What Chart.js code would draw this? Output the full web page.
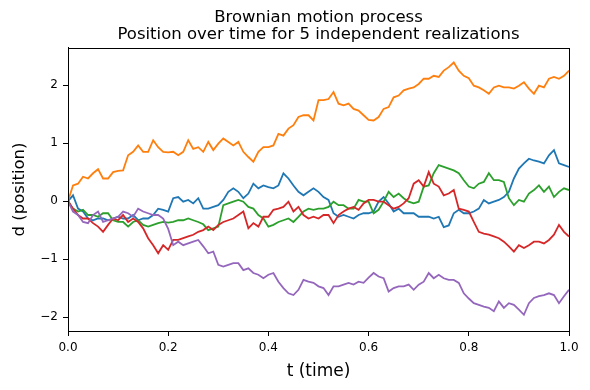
<!DOCTYPE html>
<html>
<head>
<meta charset="utf-8">
<script src="https://cdn.jsdelivr.net/npm/chart.js@4.4.0/dist/chart.umd.min.js"></script>
<style>
  html, body { margin: 0; padding: 0; background: #fff; }
</style>
</head>
<body>
<canvas id="js--chart" width="590" height="390"></canvas>
<script>
const times = Array.from({ length: 101 }, (_, i) => i / 100)

const walkBlue = [
  0, 0.10, -0.13, -0.18, -0.30, -0.33, -0.30, -0.30, -0.33, -0.30, -0.27, -0.30, -0.30, -0.24, -0.33, -0.30, -0.30, -0.24, -0.13, -0.15, -0.18,
  0.05, 0.07, -0.01, 0.02, -0.04, 0.05, -0.13, -0.13, -0.10, -0.07, 0.02, 0.16, 0.22, 0.16, 0.05, 0.13, 0.30, 0.22, 0.27, 0.24,
  0.22, 0.27, 0.48, 0.39, 0.27, 0.16, 0.10, 0.16, 0.22, 0.16, 0.07, 0.02, -0.21, -0.27, -0.24, -0.27, -0.30, -0.24, -0.21, -0.21,
  -0.18, -0.01, 0.07, -0.04, -0.18, -0.13, -0.21, -0.21, -0.21, -0.27, -0.27, -0.27, -0.30, -0.27, -0.45, -0.42, -0.21, -0.15, -0.21, -0.21,
  -0.18, -0.13, 0.02, -0.04, -0.01, 0.02, 0.07, 0.16, 0.39, 0.56, 0.65, 0.73, 0.70, 0.68, 0.65, 0.79, 0.88, 0.65, 0.62, 0.59
]
const walkOrange = [
  0, 0.27, 0.30, 0.42, 0.39, 0.48, 0.55, 0.39, 0.39, 0.50, 0.52, 0.53, 0.79, 0.85, 0.96, 0.85, 0.85, 1.05, 0.93, 0.85, 0.84,
  0.85, 0.79, 0.85, 1.05, 0.90, 0.93, 0.85, 1.02, 0.88, 0.99, 1.08, 1.02, 0.96, 1.02, 0.85, 0.76, 0.68, 0.85, 0.93, 0.93,
  0.96, 1.16, 1.13, 1.25, 1.31, 1.45, 1.48, 1.48, 1.39, 1.74, 1.74, 1.76, 1.88, 1.68, 1.65, 1.68, 1.59, 1.56, 1.48, 1.40,
  1.39, 1.45, 1.59, 1.62, 1.79, 1.82, 1.91, 1.94, 1.96, 2.02, 2.11, 2.11, 2.16, 2.14, 2.25, 2.31, 2.39, 2.25, 2.16, 2.12,
  1.99, 1.96, 1.91, 1.85, 1.96, 1.99, 1.96, 1.96, 1.94, 1.99, 2.05, 1.94, 1.85, 1.99, 1.96, 2.11, 2.14, 2.11, 2.16, 2.25
]
const walkGreen = [
  0, -0.13, -0.18, -0.15, -0.24, -0.24, -0.27, -0.21, -0.21, -0.33, -0.36, -0.36, -0.44, -0.36, -0.33, -0.41, -0.44, -0.41, -0.38, -0.36, -0.37,
  -0.36, -0.33, -0.33, -0.30, -0.33, -0.36, -0.40, -0.50, -0.47, -0.44, -0.07, -0.04, -0.01, 0.02, -0.01, -0.10, -0.13, -0.24, -0.30, -0.44,
  -0.41, -0.36, -0.33, -0.30, -0.36, -0.27, -0.18, -0.13, -0.15, -0.13, -0.13, -0.10, -0.01, -0.07, -0.07, -0.13, -0.13, 0.02, -0.01, -0.01,
  -0.21, -0.15, -0.01, 0.16, 0.07, 0.13, 0.05, -0.01, -0.04, -0.01, 0.25, 0.27, 0.48, 0.62, 0.59, 0.56, 0.53, 0.48, 0.36, 0.25,
  0.22, 0.30, 0.33, 0.48, 0.36, 0.36, 0.33, 0.05, -0.07, 0.02, -0.01, 0.13, 0.19, 0.27, 0.16, 0.25, 0.07, 0.16, 0.22, 0.19
]
const walkRed = [
  0, -0.13, -0.24, -0.30, -0.30, -0.38, -0.44, -0.53, -0.41, -0.30, -0.33, -0.24, -0.36, -0.30, -0.36, -0.47, -0.64, -0.76, -0.90, -0.76, -0.84,
  -0.67, -0.67, -0.64, -0.61, -0.58, -0.53, -0.50, -0.44, -0.50, -0.41, -0.36, -0.33, -0.30, -0.24, -0.18, -0.47, -0.38, -0.44, -0.27, -0.27,
  -0.15, -0.13, -0.10, -0.01, -0.18, -0.10, -0.24, -0.30, -0.27, -0.30, -0.24, -0.24, -0.38, -0.24, -0.18, -0.13, -0.10, -0.15, -0.04, 0.02,
  0.02, -0.01, -0.01, -0.07, -0.13, -0.10, -0.04, 0.05, 0.30, 0.36, 0.25, 0.50, 0.30, 0.25, 0.10, 0.13, 0.19, -0.13, -0.15, -0.18,
  -0.36, -0.53, -0.56, -0.58, -0.61, -0.64, -0.70, -0.78, -0.87, -0.76, -0.81, -0.76, -0.70, -0.70, -0.73, -0.67, -0.58, -0.41, -0.53, -0.61
]
const walkPurple = [
  0, -0.18, -0.24, -0.36, -0.38, -0.24, -0.18, -0.36, -0.33, -0.30, -0.27, -0.18, -0.21, -0.27, -0.13, -0.18, -0.21, -0.24, -0.24, -0.30, -0.48,
  -0.76, -0.70, -0.76, -0.73, -0.70, -0.67, -0.78, -0.90, -0.87, -1.10, -1.13, -1.10, -1.07, -1.07, -1.19, -1.16, -1.24, -1.27, -1.33, -1.27,
  -1.24, -1.39, -1.50, -1.59, -1.62, -1.53, -1.36, -1.39, -1.41, -1.47, -1.50, -1.62, -1.47, -1.47, -1.44, -1.41, -1.44, -1.39, -1.41, -1.32,
  -1.24, -1.30, -1.33, -1.56, -1.50, -1.47, -1.47, -1.44, -1.53, -1.44, -1.39, -1.24, -1.33, -1.27, -1.33, -1.36, -1.36, -1.41, -1.59, -1.68,
  -1.76, -1.79, -1.82, -1.84, -1.90, -1.73, -1.84, -1.76, -1.79, -1.87, -1.96, -1.76, -1.67, -1.64, -1.62, -1.59, -1.62, -1.76, -1.64, -1.53
]

const walks = [walkBlue, walkOrange, walkGreen, walkRed, walkPurple]
const colors = ['#1f77b4', '#ff7f0e', '#2ca02c', '#d62728', '#9467bd']

const fontFamily = "'DejaVu Sans', sans-serif"

// box around the plot area, like matplotlib's spines
const frame = {
  id: 'frame',
  afterDatasetsDraw(chart) {
    const { ctx, chartArea: a } = chart
    ctx.save()
    ctx.strokeStyle = '#000'
    ctx.lineWidth = 1
    ctx.strokeRect(Math.round(a.left) + 0.5, Math.round(a.top) + 0.5, Math.round(a.right - a.left), Math.round(a.bottom - a.top))
    ctx.restore()
  }
}

const datasets = walks.map((w, i) => ({
  label: 'walk ' + (i + 1),
  data: times.map((t, k) => ({ x: t, y: w[k] })),
  borderColor: colors[i],
  backgroundColor: colors[i],
  borderWidth: 1.8,
  pointRadius: 0,
  tension: 0,
  order: walks.length - i,
}))

new Chart(document.getElementById('js--chart'), {
  type: 'line',
  data: { datasets: datasets },
  options: {
    responsive: false,
    animation: false,
    layout: { padding: { left: 0, right: 21, top: 0, bottom: 0 } },
    plugins: {
      legend: { display: false },
      tooltip: { enabled: false },
      title: {
        display: true,
        fullSize: false,
        text: ['Brownian motion process', 'Position over time for 5 independent realizations'],
        color: '#000',
        font: { family: fontFamily, size: 16.5, weight: 'normal', lineHeight: 1.03 },
        padding: { top: 9, bottom: 5 },
      },
    },
    scales: {
      x: {
        type: 'linear',
        min: 0,
        max: 1,
        afterFit(scale) { scale.height = 59 },
        ticks: {
          stepSize: 0.2,
          color: '#000',
          font: { family: fontFamily, size: 12 },
          padding: 5,
          maxRotation: 0,
          callback: v => v.toFixed(1),
        },
        grid: { drawOnChartArea: false, drawTicks: true, tickLength: 5, color: '#000' },
        border: { color: '#000', width: 1 },
        title: {
          display: true,
          text: 't (time)',
          color: '#000',
          font: { family: fontFamily, size: 17 },
          padding: { top: 0, bottom: 8 },
        },
      },
      y: {
        type: 'linear',
        min: -2.24,
        max: 2.64,
        afterFit(scale) { scale.width = 68 },
        ticks: {
          stepSize: 1,
          includeBounds: false,
          color: '#000',
          font: { family: fontFamily, size: 12 },
          padding: 5,
          callback: v => (v < 0 ? '\u2212' + Math.abs(v) : String(v)),
        },
        grid: { drawOnChartArea: false, drawTicks: true, tickLength: 5, color: '#000' },
        border: { color: '#000', width: 1 },
        title: {
          display: true,
          text: 'd (position)',
          color: '#000',
          font: { family: fontFamily, size: 16.5 },
          padding: { top: 10, bottom: 0 },
        },
      },
    },
  },
  plugins: [frame],
})
</script>
</body>
</html>
